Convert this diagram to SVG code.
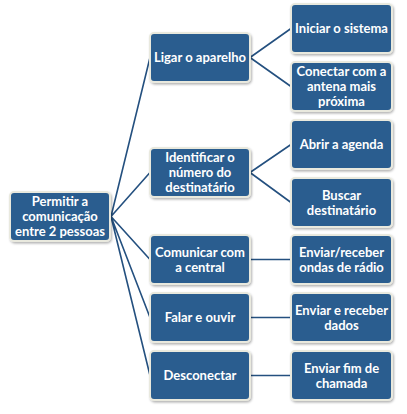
<svg xmlns="http://www.w3.org/2000/svg" width="407" height="414" viewBox="0 0 407 414">
<defs>
<filter id="sh" x="-10%" y="-10%" width="125%" height="130%">
<feDropShadow dx="1" dy="1.5" stdDeviation="1" flood-color="#000" flood-opacity="0.3"/>
</filter>
</defs>
<style>
.box{fill:#2A5D8F;stroke:#E9E9DE;stroke-width:2;filter:url(#sh)}
.t{fill:#fff;font-family:Lato,"Liberation Sans",sans-serif;font-size:13px;font-weight:bold;text-anchor:middle}
.c{stroke:#24507F;stroke-width:1.6;fill:none}
</style>
<rect width="407" height="414" fill="#fff"/>
<g id="connectors">
<path class="c" d="M111,216.5 L150,57.5 M111,216.5 L150,172.5 M111,216.5 L150,259.5 M111,216.5 L150,317.5 M111,216.5 L150,375.5"/>
<path class="c" d="M250,57.5 L291,28.5 M250,57.5 L291,86.5 M250,172.5 L291,144.5 M250,172.5 L291,202.5 M250,259.5 L291,259.5 M250,317.5 L291,317.5 M250,375.5 L291,375.5"/>
</g>
<g id="root">
<rect class="box" x="10" y="192" width="100" height="49" rx="4"/>
<text class="t" x="60" y="206">Permitir a</text>
<text class="t" x="60" y="221">comunicação</text>
<text class="t" x="60" y="236">entre 2 pessoas</text>
</g>
<g id="ligar">
<rect class="box" x="150" y="33" width="100" height="49" rx="4"/>
<text class="t" x="200" y="62">Ligar o aparelho</text>
</g>
<g id="identificar">
<rect class="box" x="150" y="148" width="100" height="49" rx="4"/>
<text class="t" x="200" y="162">Identificar o</text>
<text class="t" x="200" y="177">número do</text>
<text class="t" x="200" y="192">destinatário</text>
</g>
<g id="comunicar">
<rect class="box" x="150" y="235" width="100" height="49" rx="4"/>
<text class="t" x="200" y="256.5">Comunicar com</text>
<text class="t" x="200" y="271.5">a central</text>
</g>
<g id="falar">
<rect class="box" x="150" y="293" width="100" height="49" rx="4"/>
<text class="t" x="200" y="322">Falar e ouvir</text>
</g>
<g id="desconectar">
<rect class="box" x="150" y="351" width="100" height="49" rx="4"/>
<text class="t" x="200" y="380">Desconectar</text>
</g>
<g id="iniciar">
<rect class="box" x="291" y="4" width="101" height="49" rx="4"/>
<text class="t" x="341.5" y="33">Iniciar o sistema</text>
</g>
<g id="conectar">
<rect class="box" x="291" y="62" width="101" height="49" rx="4"/>
<text class="t" x="341.5" y="76">Conectar com a</text>
<text class="t" x="341.5" y="91">antena mais</text>
<text class="t" x="341.5" y="106">próxima</text>
</g>
<g id="abrir">
<rect class="box" x="291" y="120" width="101" height="49" rx="4"/>
<text class="t" x="341.5" y="149">Abrir a agenda</text>
</g>
<g id="buscar">
<rect class="box" x="291" y="178" width="101" height="49" rx="4"/>
<text class="t" x="341.5" y="199.5">Buscar</text>
<text class="t" x="341.5" y="214.5">destinatário</text>
</g>
<g id="enviar-ondas">
<rect class="box" x="291" y="235" width="101" height="49" rx="4"/>
<text class="t" x="341.5" y="256.5">Enviar/receber</text>
<text class="t" x="341.5" y="271.5">ondas de rádio</text>
</g>
<g id="enviar-dados">
<rect class="box" x="291" y="293" width="101" height="49" rx="4"/>
<text class="t" x="341.5" y="314.5">Enviar e receber</text>
<text class="t" x="341.5" y="329.5">dados</text>
</g>
<g id="enviar-fim">
<rect class="box" x="291" y="351" width="101" height="49" rx="4"/>
<text class="t" x="341.5" y="372.5">Enviar fim de</text>
<text class="t" x="341.5" y="387.5">chamada</text>
</g>
</svg>
